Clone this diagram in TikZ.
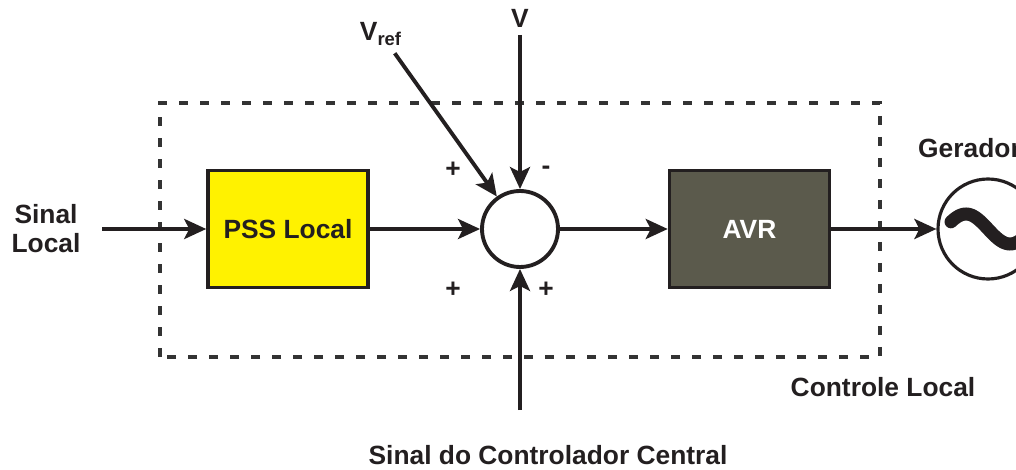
\documentclass[tikz,border=0pt]{standalone}
\usepackage{fontspec}
\setmainfont{Liberation Sans}
\usepackage{tikz}
\usetikzlibrary{arrows.meta,positioning,calc}
\definecolor{pssyellow}{RGB}{255,242,0}
\definecolor{avrgray}{RGB}{91,90,76}
\definecolor{lineblack}{RGB}{35,31,32}
\definecolor{framegray}{RGB}{51,51,51}

\begin{document}
\begin{tikzpicture}[line width=2.2pt, font=\fontsize{15}{16.5}\selectfont\bfseries]
  \tikzstyle{block} = [rectangle, draw=lineblack, line width=2pt, minimum width=3.2cm, minimum height=2.34cm, align=center]
  \tikzstyle{sumnode} = [circle, draw=lineblack, fill=white, minimum size=1.52cm, inner sep=0pt]
  \tikzstyle{gennode} = [circle, draw=lineblack, line width=1.8pt, fill=white, minimum size=2.0cm, inner sep=0pt]
  \tikzstyle{sig} = [draw=lineblack, -{Stealth[length=0.44cm, width=0.4cm, inset=0.1cm]}]
  \tikzstyle{frame} = [draw=framegray, line width=2pt, dash pattern=on 0.18cm off 0.24cm]
  \tikzstyle{label} = [text=lineblack, align=center]

  \useasboundingbox (0,0) rectangle (20.32,9.38);

  \draw[frame] (3.2,2.24) rectangle (17.6,7.32);

  \node[block, fill=pssyellow, text=lineblack] (pss) at (5.76, 4.8) {PSS Local};
  \node[block, fill=avrgray, text=white] (avr) at (14.99, 4.8) {AVR};
  \node[sumnode] (sum) at (10.4, 4.8) {};
  \node[gennode] (gen) at (19.76, 4.8) {};

  \node[label, inner xsep=0.4cm] (sinal) at (0.92, 4.8) {Sinal\\Local};
  \node[label] (v) at (10.4, 9.02) {V};
  \node[label] (vref) at (7.62, 8.7) {V\textsubscript{ref}};
  \node[label] (gerador) at (19.39, 6.42) {Gerador};
  \node[label] (controle) at (17.66, 1.64) {Controle Local};
  \node[label] (central) at (10.96, 0.27) {Sinal do Controlador Central};
  \coordinate (centralin) at (10.4, 1.18);

  \node[label] (s1) at (9.06, 5.98) {+};
  \node[label] (s2) at (10.92, 5.98) {-};
  \node[label] (s3) at (9.06, 3.58) {+};
  \node[label] (s4) at (10.92, 3.58) {+};

  \draw[sig] (sinal) -- (pss);
  \draw[sig] (pss) -- (sum);
  \draw[sig] (vref) -- (sum);
  \draw[sig] (v) -- (sum);
  \draw[sig] (centralin) -- (sum);
  \draw[sig] (sum) -- (avr);
  \draw[sig] (avr) -- (gen);

  \begin{scope}[shift={(gen.center)}]
    \draw[lineblack, line width=0.26cm, line cap=round] plot[domain=-0.74:0.74, samples=40, smooth] (\x, {-0.3*sin(\x*360/1.76)});
  \end{scope}
\end{tikzpicture}
\end{document}
